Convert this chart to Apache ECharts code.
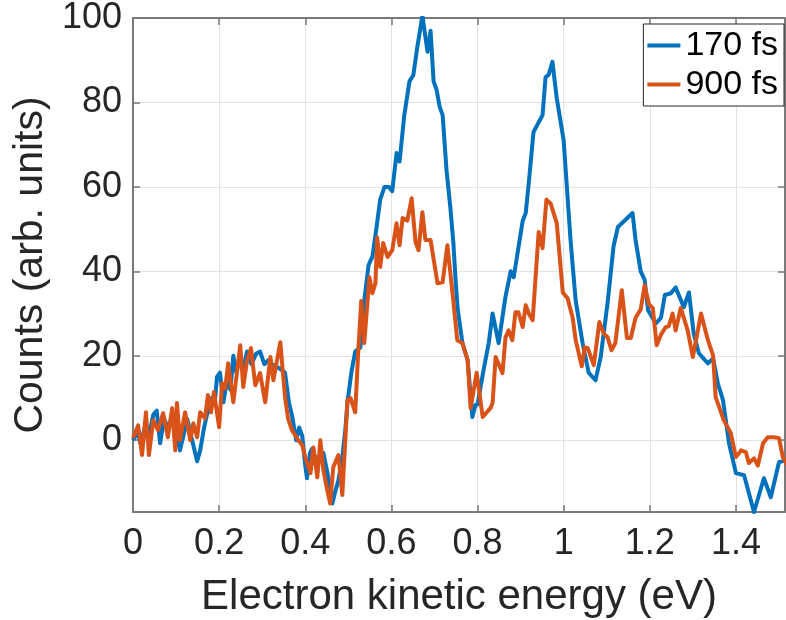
<!DOCTYPE html>
<html>
<head>
<meta charset="utf-8">
<script src="https://cdn.jsdelivr.net/npm/echarts@6/dist/echarts.min.js"></script>
<style>
  html, body { margin: 0; padding: 0; background: #fff; }
  #chart { width: 786px; height: 620px; }
</style>
</head>
<body>
<div id="chart"></div>
<script>
// 170 fs trace (energy in eV, counts)
const blueX = [0.000, 0.010, 0.018, 0.027, 0.037, 0.047, 0.055, 0.063, 0.072, 0.082, 0.092, 0.100, 0.109, 0.117, 0.126, 0.135, 0.142, 0.149, 0.156, 0.165, 0.174, 0.183, 0.190, 0.195, 0.202, 0.210, 0.218, 0.226, 0.233, 0.240, 0.248, 0.256, 0.265, 0.275, 0.286, 0.295, 0.305, 0.315, 0.323, 0.340, 0.353, 0.362, 0.370, 0.379, 0.386, 0.393, 0.400, 0.404, 0.411, 0.416, 0.423, 0.428, 0.435, 0.442, 0.452, 0.463, 0.470, 0.477, 0.486, 0.493, 0.498, 0.507, 0.516, 0.528, 0.537, 0.547, 0.556, 0.565, 0.574, 0.584, 0.594, 0.602, 0.612, 0.619, 0.630, 0.642, 0.651, 0.660, 0.672, 0.684, 0.691, 0.698, 0.705, 0.712, 0.719, 0.728, 0.737, 0.744, 0.749, 0.754, 0.765, 0.777, 0.788, 0.795, 0.800, 0.814, 0.826, 0.835, 0.849, 0.865, 0.877, 0.884, 0.905, 0.912, 0.920, 0.930, 0.951, 0.958, 0.965, 0.974, 0.984, 1.000, 1.016, 1.028, 1.044, 1.058, 1.074, 1.086, 1.102, 1.116, 1.126, 1.160, 1.167, 1.179, 1.188, 1.196, 1.214, 1.226, 1.235, 1.249, 1.260, 1.279, 1.291, 1.302, 1.314, 1.335, 1.347, 1.358, 1.370, 1.384, 1.400, 1.419, 1.442, 1.465, 1.481, 1.500, 1.520];
const blueY = [0, 2, -1, 3, 1, 6, 7, -0.7, 5, 3, 6, 2, -2.4, 1, 5, 1, -2, -5, -2.4, 3, 7, 10, 9, 15, 16, 9, 14, 12, 20, 16, 19.5, 17, 21, 18, 20.5, 21, 18, 19, 18, 17, 16, 9, 5.5, 0, 3, 1, -6, -9, -3, -2, -5.5, -4, -5, -3, -8, -15, -12, -9.5, -4, 2.4, 9, 16, 21, 22, 33, 41.5, 43.5, 50, 57, 60, 60, 59, 68, 66, 77, 85, 86.5, 93, 100.5, 92, 97, 85, 83, 79, 77, 64, 55, 46.7, 38, 31, 23, 19, 5.5, 8.3, 8.5, 16.6, 23, 30, 23, 34, 40, 38.6, 52, 53.8, 62, 73, 77, 86, 86.5, 89.6, 81, 71, 47.4, 33, 23, 16, 14.2, 19.7, 32.5, 46, 50.5, 53.8, 47.4, 40, 38, 30.8, 27.7, 29, 34.4, 34.8, 36.2, 31.5, 35, 25.3, 20.6, 18.2, 19.4, 13.5, 9.5, -0.7, -7.8, -8.3, -17, -9, -13.5, -5.2, -4.7];

// 900 fs trace
const orangeX = [0.000, 0.012, 0.021, 0.030, 0.037, 0.047, 0.058, 0.070, 0.081, 0.091, 0.098, 0.102, 0.109, 0.121, 0.133, 0.140, 0.149, 0.156, 0.167, 0.174, 0.181, 0.188, 0.200, 0.207, 0.214, 0.221, 0.233, 0.249, 0.256, 0.265, 0.274, 0.284, 0.295, 0.307, 0.319, 0.326, 0.342, 0.353, 0.360, 0.369, 0.384, 0.393, 0.400, 0.412, 0.419, 0.428, 0.435, 0.442, 0.451, 0.458, 0.465, 0.477, 0.486, 0.498, 0.505, 0.516, 0.523, 0.530, 0.537, 0.549, 0.556, 0.563, 0.567, 0.574, 0.581, 0.591, 0.602, 0.612, 0.619, 0.626, 0.637, 0.647, 0.656, 0.663, 0.672, 0.679, 0.691, 0.707, 0.719, 0.730, 0.742, 0.753, 0.765, 0.777, 0.784, 0.798, 0.812, 0.830, 0.835, 0.842, 0.858, 0.865, 0.872, 0.881, 0.888, 0.895, 0.905, 0.912, 0.919, 0.928, 0.942, 0.951, 0.960, 0.970, 0.984, 0.998, 1.009, 1.021, 1.028, 1.042, 1.049, 1.056, 1.070, 1.083, 1.093, 1.102, 1.111, 1.120, 1.135, 1.147, 1.156, 1.167, 1.179, 1.188, 1.198, 1.207, 1.216, 1.226, 1.237, 1.244, 1.253, 1.260, 1.272, 1.288, 1.300, 1.319, 1.335, 1.347, 1.353, 1.372, 1.388, 1.400, 1.412, 1.423, 1.430, 1.442, 1.451, 1.463, 1.474, 1.488, 1.500, 1.509, 1.520];
const orangeY = [0.5, 3.5, -3.5, 6.6, -3.5, 4.7, 2.4, 6.4, 0.7, 7.6, -2.4, 8.8, 0, 6.6, 0, 4, 0.7, 6.6, 5.2, 10.7, 6.6, 11.4, 3.1, 13.5, 12.3, 18.2, 9, 22.5, 12.6, 19, 21.8, 13, 15.9, 9, 19.7, 14.2, 23.2, 10.2, 5.2, 2.4, 0, -1.2, -4, -7.8, -1.7, -8.8, 0, -7.1, -11.8, -15, -6.4, -3.5, -13, 9.5, 10, 6.6, 21, 33, 23, 38.6, 34.8, 37.2, 48, 41, 46.7, 43.4, 45, 51.4, 46.2, 52.6, 52, 57.3, 47, 45, 54, 47.4, 47.4, 37.2, 37.4, 46.2, 34.8, 23.7, 23, 19, 7.6, 16, 5.5, 7.6, 8.8, 19.7, 15.9, 24.4, 26, 23.7, 30.3, 30.3, 26.8, 32, 30, 28.4, 49.3, 45.5, 57, 56, 51.4, 35, 33.6, 29, 23.7, 17.5, 22, 21.8, 17.8, 28, 25.3, 24.4, 21.3, 23, 35.5, 24.2, 24.2, 29, 31, 36.7, 32.2, 31.3, 22.5, 25, 26.8, 27, 30, 26, 31.3, 26, 19.7, 30, 23.7, 20.1, 10.2, 4.7, 1.7, -4, -2.4, -2.8, -5.4, -4.3, -6, -0.7, 0.7, 0.7, 0.5, -4, -6];

const seriesNames = ['170 fs', '900 fs'];
const xTitle = 'Electron kinetic energy (eV)';
const yTitle = 'Counts (arb. units)';

const FONT = '"Liberation Sans", Arial, Helvetica, sans-serif';
const AXIS_COLOR = '#7a7a7a';
const TEXT_COLOR = '#262626';

const chart = echarts.init(document.getElementById('chart'), null, { renderer: 'canvas' });

const xRange = { min: 0, max: 1.514 };
const yRange = { min: -17, max: 100 };

const baseX = {
  type: 'value',
  min: xRange.min,
  max: xRange.max,
  interval: 0.2,
  axisLine: { show: true, onZero: false, lineStyle: { color: AXIS_COLOR, width: 2 } },
  axisTick: { show: true, inside: true, length: 7, lineStyle: { color: AXIS_COLOR, width: 1.5 } }
};
const baseY = {
  type: 'value',
  min: yRange.min,
  max: yRange.max,
  minInterval: 20,
  maxInterval: 20,
  splitNumber: 6,
  axisLine: { show: true, onZero: false, lineStyle: { color: AXIS_COLOR, width: 2 } },
  axisTick: { show: true, inside: true, length: 7, lineStyle: { color: AXIS_COLOR, width: 1.5 } }
};

const option = {
  animation: false,
  backgroundColor: '#fff',
  textStyle: { fontFamily: FONT },
  grid: {
    left: 133,
    right: 1,
    top: 18,
    bottom: 108,
    containLabel: false,
    outerBoundsMode: 'none'
  },
  legend: {
    data: seriesNames,
    orient: 'vertical',
    right: 2,
    top: 24,
    icon: 'rect',
    itemWidth: 33,
    itemHeight: 4,
    itemGap: 2,
    padding: [3, 6, 3, 4],
    backgroundColor: '#fff',
    borderColor: TEXT_COLOR,
    borderWidth: 1,
    borderRadius: 0,
    textStyle: { fontSize: 34, color: '#000', fontFamily: FONT, lineHeight: 37 }
  },
  xAxis: [
    Object.assign({}, baseX, {
      position: 'bottom',
      name: xTitle,
      nameLocation: 'middle',
      nameGap: 64,
      nameTextStyle: { fontSize: 42, color: TEXT_COLOR, fontFamily: FONT },
      axisLabel: { show: true, showMaxLabel: false, margin: 14, fontSize: 36, color: TEXT_COLOR, fontFamily: FONT },
      splitLine: { show: true, lineStyle: { color: '#e3e3e3', width: 1 } }
    }),
    Object.assign({}, baseX, {
      position: 'top',
      axisLabel: { show: false },
      splitLine: { show: false }
    })
  ],
  yAxis: [
    Object.assign({}, baseY, {
      position: 'left',
      name: yTitle,
      nameLocation: 'middle',
      nameGap: 76,
      nameRotate: 90,
      nameTextStyle: { fontSize: 41, color: TEXT_COLOR, fontFamily: FONT },
      axisLabel: { show: true, showMinLabel: false, margin: 11, fontSize: 36, color: TEXT_COLOR, fontFamily: FONT },
      splitLine: { show: true, lineStyle: { color: '#e3e3e3', width: 1 } }
    }),
    Object.assign({}, baseY, {
      position: 'right',
      axisLabel: { show: false },
      splitLine: { show: false }
    })
  ],
  series: [
    {
      name: seriesNames[0],
      type: 'line',
      xAxisIndex: 0,
      yAxisIndex: 0,
      showSymbol: false,
      symbol: 'none',
      data: blueX.map((x, i) => [x, blueY[i]]),
      itemStyle: { color: '#0072BD' },
      lineStyle: { width: 4, color: '#0072BD', join: 'round' },
      z: 2
    },
    {
      name: seriesNames[1],
      type: 'line',
      xAxisIndex: 0,
      yAxisIndex: 0,
      showSymbol: false,
      symbol: 'none',
      data: orangeX.map((x, i) => [x, orangeY[i]]),
      itemStyle: { color: '#D95319' },
      lineStyle: { width: 4, color: '#D95319', join: 'round' },
      z: 3
    }
  ]
};

chart.setOption(option);
</script>
</body>
</html>
